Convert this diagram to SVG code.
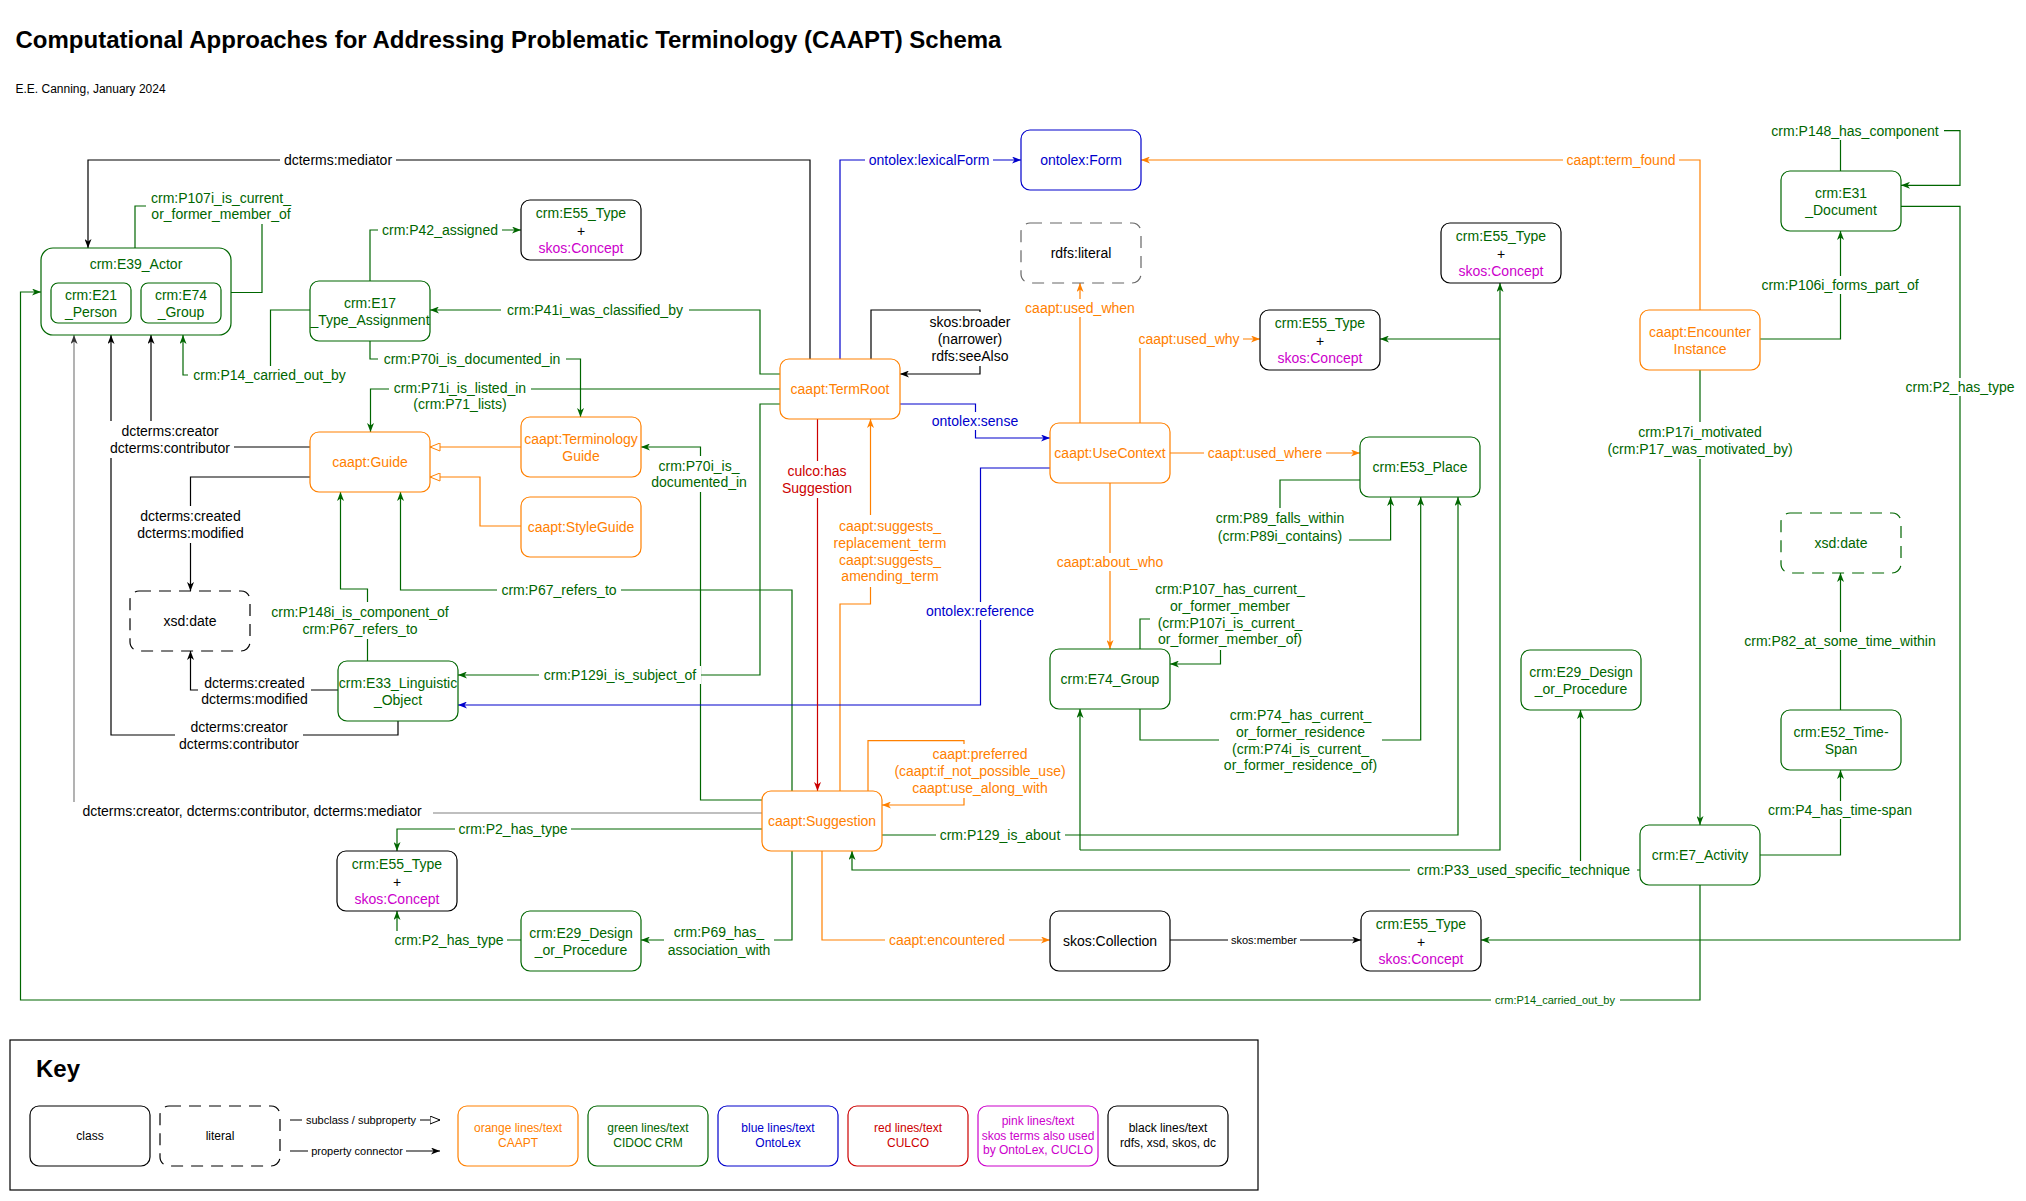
<svg xmlns="http://www.w3.org/2000/svg" xmlns:xlink="http://www.w3.org/1999/xlink" width="2026" height="1201" viewBox="0 0 2026 1201">
<style>
text{font-family:"Liberation Sans",Arial,Helvetica,sans-serif;font-size:14px;text-anchor:middle;dominant-baseline:central}
.title{font-size:24px;font-weight:bold;text-anchor:start;dominant-baseline:auto}
.sub{font-size:12px;text-anchor:start;dominant-baseline:auto}
.bg use{filter:url(#bgo)}
.s11{font-size:11px}
.s12{font-size:12px}
.g{fill:#006600}.o{fill:#FF8000}.b{fill:#0000CC}.r{fill:#CC0000}.p{fill:#CC00CC}.k{fill:#000}
rect.n{fill:#fff;stroke-width:1.2}
.ng{stroke:#006600}.no{stroke:#FF8000}.nb{stroke:#0000CC}.nk{stroke:#000}.nr{stroke:#CC0000}.np{stroke:#CC00CC}.nd{stroke:#666}
.d{stroke-dasharray:12 8}
path.e{fill:none;stroke-width:1.2}
.cg{stroke:#006600}.co{stroke:#FF8000}.cb{stroke:#0000CC}.cr{stroke:#CC0000}.ck{stroke:#000}.cy{stroke:#808080;stroke-width:2.2px}
</style>
<defs>
<filter id="bgo" x="-0.03" y="-0.04" width="1.06" height="1.08"><feFlood flood-color="#fff"/></filter>
<marker id="ag" viewBox="0 0 9 7" refX="9" refY="3.5" markerWidth="9" markerHeight="7" markerUnits="userSpaceOnUse" orient="auto"><path d="M0,0 L9,3.5 L0,7 L2.5,3.5 Z" fill="#006600"/></marker>
<marker id="ao" viewBox="0 0 9 7" refX="9" refY="3.5" markerWidth="9" markerHeight="7" markerUnits="userSpaceOnUse" orient="auto"><path d="M0,0 L9,3.5 L0,7 L2.5,3.5 Z" fill="#FF8000"/></marker>
<marker id="ab" viewBox="0 0 9 7" refX="9" refY="3.5" markerWidth="9" markerHeight="7" markerUnits="userSpaceOnUse" orient="auto"><path d="M0,0 L9,3.5 L0,7 L2.5,3.5 Z" fill="#0000CC"/></marker>
<marker id="ar" viewBox="0 0 9 7" refX="9" refY="3.5" markerWidth="9" markerHeight="7" markerUnits="userSpaceOnUse" orient="auto"><path d="M0,0 L9,3.5 L0,7 L2.5,3.5 Z" fill="#CC0000"/></marker>
<marker id="ak" viewBox="0 0 9 7" refX="9" refY="3.5" markerWidth="9" markerHeight="7" markerUnits="userSpaceOnUse" orient="auto"><path d="M0,0 L9,3.5 L0,7 L2.5,3.5 Z" fill="#000"/></marker>
<marker id="ay" viewBox="0 0 9 7" refX="9" refY="3.5" markerWidth="9" markerHeight="7" markerUnits="userSpaceOnUse" orient="auto"><path d="M0,0 L9,3.5 L0,7 L2.5,3.5 Z" fill="#333"/></marker>
<marker id="ho" viewBox="0 0 11 9" refX="10.5" refY="4.5" markerWidth="11" markerHeight="9" markerUnits="userSpaceOnUse" orient="auto"><path d="M0.5,0.5 L10.5,4.5 L0.5,8.5 Z" fill="#fff" stroke="#FF8000"/></marker>
<marker id="hk" viewBox="0 0 11 9" refX="10.5" refY="4.5" markerWidth="11" markerHeight="9" markerUnits="userSpaceOnUse" orient="auto"><path d="M0.5,0.5 L10.5,4.5 L0.5,8.5 Z" fill="#fff" stroke="#000"/></marker>
</defs>
<rect width="2026" height="1201" fill="#fff"/>
<text class="title" x="15.5" y="48">Computational Approaches for Addressing Problematic Terminology (CAAPT) Schema</text>
<text class="sub" x="15.5" y="93">E.E. Canning, January 2024</text>

<g id="connectors">
<!-- black -->
<path class="e ck" d="M810,359 V160 H88 V248" marker-end="url(#ak)"/>
<path class="e ck" d="M871,359 V310 H980 V374 H900" marker-end="url(#ak)"/>
<path class="e ck" d="M310,447 H151 V335" marker-end="url(#ak)"/>
<path class="e ck" d="M310,477 H190.5 V591" marker-end="url(#ak)"/>
<path class="e ck" d="M338,690 H190.5 V651" marker-end="url(#ak)"/>
<path class="e ck" d="M398,721 V735 H111 V335" marker-end="url(#ak)"/>
<path class="e cy" d="M762,813 H74 V335" marker-end="url(#ay)"/>
<path class="e ck" d="M1170,940 H1361" marker-end="url(#ak)"/>
<!-- green -->
<path class="e cg" d="M135,248 V206 H262 V292.5 H221" marker-end="url(#ag)"/>
<path class="e cg" d="M370,281 V230 H521" marker-end="url(#ag)"/>
<path class="e cg" d="M780,374 H760 V310 H430" marker-end="url(#ag)"/>
<path class="e cg" d="M310,310 H270.5 V375 H183 V335" marker-end="url(#ag)"/>
<path class="e cg" d="M370,341 V359 H580.5 V417" marker-end="url(#ag)"/>
<path class="e cg" d="M780,389 H370.5 V432" marker-end="url(#ag)"/>
<path class="e cg" d="M762,800 H700.5 V447 H641" marker-end="url(#ag)"/>
<path class="e cg" d="M780,404 H760 V675 H458" marker-end="url(#ag)"/>
<path class="e cg" d="M792,791 V590 H400.5 V492" marker-end="url(#ag)"/>
<path class="e cg" d="M367.5,661 V589 H340.5 V492" marker-end="url(#ag)"/>
<path class="e cg" d="M762,829 H397 V851" marker-end="url(#ag)"/>
<path class="e cg" d="M792,851 V940 H641" marker-end="url(#ag)"/>
<path class="e cg" d="M521,940 H397 V911" marker-end="url(#ag)"/>
<path class="e cg" d="M882,835 H1458 V497" marker-end="url(#ag)"/>
<path class="e cg" d="M1080,850 V709" marker-end="url(#ag)"/>
<path class="e cg" d="M1080,850 H1500 V283" marker-end="url(#ag)"/>
<path class="e cg" d="M1500,339 H1380" marker-end="url(#ag)"/>
<path class="e cg" d="M1640,870 H852 V851" marker-end="url(#ag)"/>
<path class="e cg" d="M1580.5,870 V710" marker-end="url(#ag)"/>
<path class="e cg" d="M1700,369 V825" marker-end="url(#ag)"/>
<path class="e cg" d="M1760,339 H1840.5 V231" marker-end="url(#ag)"/>
<path class="e cg" d="M1840.5,171 V130.7 H1960 V185.3 H1901" marker-end="url(#ag)"/>
<path class="e cg" d="M1901,206.3 H1960 V940 H1481" marker-end="url(#ag)"/>
<path class="e cg" d="M1760,855 H1840.5 V770" marker-end="url(#ag)"/>
<path class="e cg" d="M1840.5,710 V573" marker-end="url(#ag)"/>
<path class="e cg" d="M1700,885 V1000 H20.5 V292 H41" marker-end="url(#ag)"/>
<path class="e cg" d="M1360,480 H1280 V540 H1390.6 V497" marker-end="url(#ag)"/>
<path class="e cg" d="M1140,649 V619 H1220.5 V664 H1170" marker-end="url(#ag)"/>
<path class="e cg" d="M1140,709 V740 H1420.7 V497" marker-end="url(#ag)"/>
<!-- orange -->
<path class="e co" d="M1700,310 V160 H1141" marker-end="url(#ao)"/>
<path class="e co" d="M1080,423 V283" marker-end="url(#ao)"/>
<path class="e co" d="M1140,423 V339 H1260" marker-end="url(#ao)"/>
<path class="e co" d="M1170,453 H1360" marker-end="url(#ao)"/>
<path class="e co" d="M1110,483 V649" marker-end="url(#ao)"/>
<path class="e co" d="M840,791 V604 H870.5 V419" marker-end="url(#ao)"/>
<path class="e co" d="M868,791 V740.7 H964 V805 H882" marker-end="url(#ao)"/>
<path class="e co" d="M822,851 V940 H1050" marker-end="url(#ao)"/>
<path class="e co" d="M521,447 H430" marker-end="url(#ho)"/>
<path class="e co" d="M521,526 H480 V477 H430" marker-end="url(#ho)"/>
<!-- blue -->
<path class="e cb" d="M840,359 V160 H1021" marker-end="url(#ab)"/>
<path class="e cb" d="M900,404 H975.5 V438 H1050" marker-end="url(#ab)"/>
<path class="e cb" d="M1050,468 H980.5 V705 H458" marker-end="url(#ab)"/>
<!-- red -->
<path class="e cr" d="M817.5,419 V791" marker-end="url(#ar)"/>

<g class="bg">
<use href="#t1"/><use href="#t2"/><use href="#t3"/><use href="#t4"/><use href="#t5"/><use href="#t6"/><use href="#t7"/><use href="#t8"/><use href="#t9"/><use href="#t10"/>
<use href="#t11"/><use href="#t12"/><use href="#t13"/><use href="#t14"/><use href="#t15"/><use href="#t16"/><use href="#t17"/><use href="#t18"/><use href="#t19"/><use href="#t20"/>
<use href="#t21"/><use href="#t22"/><use href="#t23"/><use href="#t24"/><use href="#t25"/><use href="#t26"/><use href="#t27"/><use href="#t28"/><use href="#t29"/><use href="#t30"/>
<use href="#t31"/><use href="#t32"/><use href="#t33"/><use href="#t34"/><use href="#t35"/><use href="#t36"/><use href="#t37"/><use href="#t38"/><use href="#t39"/><use href="#t40"/>
<use href="#t41"/><use href="#t42"/><use href="#t43"/><use href="#t44"/><use href="#t45"/>
</g>
<g id="edge-labels">
<text id="t1" class="k" x="338" y="160">dcterms:mediator</text>
<text id="t2" class="k"><tspan x="970" y="322">skos:broader</tspan><tspan x="970" y="339">(narrower)</tspan><tspan x="970" y="356">rdfs:seeAlso</tspan></text>
<text id="t3" class="k"><tspan x="170" y="431">dcterms:creator</tspan><tspan x="170" y="448">dcterms:contributor</tspan></text>
<text id="t4" class="k"><tspan x="190.5" y="516">dcterms:created</tspan><tspan x="190.5" y="533">dcterms:modified</tspan></text>
<text id="t5" class="k"><tspan x="254.5" y="683">dcterms:created</tspan><tspan x="254.5" y="699">dcterms:modified</tspan></text>
<text id="t6" class="k"><tspan x="239" y="727">dcterms:creator</tspan><tspan x="239" y="744">dcterms:contributor</tspan></text>
<text id="t7" class="k" x="252" y="811">dcterms:creator, dcterms:contributor, dcterms:mediator</text>
<text id="t8" class="k s11" x="1264" y="940">skos:member</text>

<text id="t9" class="g"><tspan x="221" y="198">crm:P107i_is_current_</tspan><tspan x="221" y="214">or_former_member_of</tspan></text>
<text id="t10" class="g" x="440" y="230">crm:P42_assigned</text>
<text id="t11" class="g" x="595" y="310">crm:P41i_was_classified_by</text>
<text id="t12" class="g" x="269.5" y="375">crm:P14_carried_out_by</text>
<text id="t13" class="g" x="472" y="359">crm:P70i_is_documented_in</text>
<text id="t14" class="g"><tspan x="460" y="388">crm:P71i_is_listed_in</tspan><tspan x="460" y="404">(crm:P71_lists)</tspan></text>
<text id="t15" class="g"><tspan x="699" y="466">crm:P70i_is_</tspan><tspan x="699" y="482">documented_in</tspan></text>
<text id="t16" class="g" x="620" y="675">crm:P129i_is_subject_of</text>
<text id="t17" class="g" x="559" y="590">crm:P67_refers_to</text>
<text id="t18" class="g"><tspan x="360" y="612">crm:P148i_is_component_of</tspan><tspan x="360" y="629">crm:P67_refers_to</tspan></text>
<text id="t19" class="g" x="513" y="829">crm:P2_has_type</text>
<text id="t20" class="g"><tspan x="719" y="932">crm:P69_has_</tspan><tspan x="719" y="950">association_with</tspan></text>
<text id="t21" class="g" x="449" y="940">crm:P2_has_type</text>
<text id="t22" class="g" x="1000" y="835">crm:P129_is_about</text>
<text id="t23" class="g" x="1523.5" y="870">crm:P33_used_specific_technique</text>
<text id="t24" class="g"><tspan x="1700" y="432">crm:P17i_motivated</tspan><tspan x="1700" y="449">(crm:P17_was_motivated_by)</tspan></text>
<text id="t25" class="g" x="1840" y="285">crm:P106i_forms_part_of</text>
<text id="t26" class="g" x="1855" y="131">crm:P148_has_component</text>
<text id="t27" class="g" x="1960" y="387">crm:P2_has_type</text>
<text id="t28" class="g" x="1840" y="810">crm:P4_has_time-span</text>
<text id="t29" class="g" x="1840" y="641">crm:P82_at_some_time_within</text>
<text id="t30" class="g s11" x="1555" y="1000">crm:P14_carried_out_by</text>
<text id="t31" class="g"><tspan x="1280" y="518">crm:P89_falls_within</tspan><tspan x="1280" y="536">(crm:P89i_contains)</tspan></text>
<text id="t32" class="g"><tspan x="1230" y="589">crm:P107_has_current_</tspan><tspan x="1230" y="606">or_former_member</tspan><tspan x="1230" y="623">(crm:P107i_is_current_</tspan><tspan x="1230" y="639">or_former_member_of)</tspan></text>
<text id="t33" class="g"><tspan x="1300.5" y="715">crm:P74_has_current_</tspan><tspan x="1300.5" y="732">or_former_residence</tspan><tspan x="1300.5" y="749">(crm:P74i_is_current_</tspan><tspan x="1300.5" y="765">or_former_residence_of)</tspan></text>

<text id="t34" class="o" x="1621" y="160">caapt:term_found</text>
<text id="t35" class="o" x="1080" y="308">caapt:used_when</text>
<text id="t36" class="o" x="1189" y="339">caapt:used_why</text>
<text id="t37" class="o" x="1265" y="453">caapt:used_where</text>
<text id="t38" class="o" x="1110" y="562">caapt:about_who</text>
<text id="t39" class="o"><tspan x="890" y="526">caapt:suggests_</tspan><tspan x="890" y="543">replacement_term</tspan><tspan x="890" y="560">caapt:suggests_</tspan><tspan x="890" y="576">amending_term</tspan></text>
<text id="t40" class="o"><tspan x="980" y="754">caapt:preferred</tspan><tspan x="980" y="771">(caapt:if_not_possible_use)</tspan><tspan x="980" y="788">caapt:use_along_with</tspan></text>
<text id="t41" class="o" x="947" y="940">caapt:encountered</text>

<text id="t42" class="b" x="929" y="160">ontolex:lexicalForm</text>
<text id="t43" class="b" x="975" y="421">ontolex:sense</text>
<text id="t44" class="b" x="980" y="611">ontolex:reference</text>

<text id="t45" class="r"><tspan x="817" y="471">culco:has</tspan><tspan x="817" y="488">Suggestion</tspan></text>
</g>
</g>

<g id="n-e39-actor">
<rect class="n ng" x="41" y="248" width="190" height="87" rx="12"/>
<text class="g" x="136" y="264">crm:E39_Actor</text>
</g>
<g id="n-e21-person">
<rect class="n ng" x="51" y="283" width="80" height="40" rx="7"/>
<text class="g"><tspan x="91" y="295">crm:E21</tspan><tspan x="91" y="312">_Person</tspan></text>
</g>
<g id="n-e74-group-inner">
<rect class="n ng" x="141" y="283" width="80" height="40" rx="7"/>
<text class="g"><tspan x="181" y="295">crm:E74</tspan><tspan x="181" y="312">_Group</tspan></text>
</g>
<g id="n-e17">
<rect class="n ng" x="310" y="281" width="120" height="60" rx="9"/>
<text class="g"><tspan x="370" y="302.5">crm:E17</tspan><tspan x="370" y="319.5">_Type_Assignment</tspan></text>
</g>
<g id="n-e55-a">
<rect class="n nk" x="521" y="200" width="120" height="60" rx="9"/>
<text class="g" x="581" y="213">crm:E55_Type</text><text class="k" x="581" y="230.5">+</text><text class="p" x="581" y="248">skos:Concept</text>
</g>
<g id="n-termroot">
<rect class="n no" x="780" y="359" width="120" height="60" rx="9"/>
<text class="o" x="840" y="389">caapt:TermRoot</text>
</g>
<g id="n-form">
<rect class="n nb" x="1021" y="130" width="120" height="60" rx="9"/>
<text class="b" x="1081" y="160">ontolex:Form</text>
</g>
<g id="n-literal">
<rect class="n nd d" x="1021" y="223" width="120" height="60" rx="9"/>
<text class="k" x="1081" y="253">rdfs:literal</text>
</g>
<g id="n-e55-b">
<rect class="n nk" x="1260" y="310" width="120" height="60" rx="9"/>
<text class="g" x="1320" y="323">crm:E55_Type</text><text class="k" x="1320" y="340.5">+</text><text class="p" x="1320" y="358">skos:Concept</text>
</g>
<g id="n-e55-c">
<rect class="n nk" x="1441" y="223" width="120" height="60" rx="9"/>
<text class="g" x="1501" y="236">crm:E55_Type</text><text class="k" x="1501" y="253.5">+</text><text class="p" x="1501" y="271">skos:Concept</text>
</g>
<g id="n-e31">
<rect class="n ng" x="1781" y="171" width="120" height="60" rx="9"/>
<text class="g"><tspan x="1841" y="192.5">crm:E31</tspan><tspan x="1841" y="209.5">_Document</tspan></text>
</g>
<g id="n-encounter">
<rect class="n no" x="1640" y="310" width="120" height="60" rx="9"/>
<text class="o"><tspan x="1700" y="331.5">caapt:Encounter</tspan><tspan x="1700" y="348.5">Instance</tspan></text>
</g>
<g id="n-guide">
<rect class="n no" x="310" y="432" width="120" height="60" rx="9"/>
<text class="o" x="370" y="462">caapt:Guide</text>
</g>
<g id="n-termguide">
<rect class="n no" x="521" y="417" width="120" height="60" rx="9"/>
<text class="o"><tspan x="581" y="438.5">caapt:Terminology</tspan><tspan x="581" y="455.5">Guide</tspan></text>
</g>
<g id="n-styleguide">
<rect class="n no" x="521" y="497" width="120" height="60" rx="9"/>
<text class="o" x="581" y="527">caapt:StyleGuide</text>
</g>
<g id="n-usecontext">
<rect class="n no" x="1050" y="423" width="120" height="60" rx="9"/>
<text class="o" x="1110" y="453">caapt:UseContext</text>
</g>
<g id="n-e53">
<rect class="n ng" x="1360" y="437" width="120" height="60" rx="9"/>
<text class="g" x="1420" y="467">crm:E53_Place</text>
</g>
<g id="n-xsd-a">
<rect class="n nk d" x="130" y="591" width="120" height="60" rx="9"/>
<text class="k" x="190" y="621">xsd:date</text>
</g>
<g id="n-e33">
<rect class="n ng" x="338" y="661" width="120" height="60" rx="9"/>
<text class="g"><tspan x="398" y="682.5">crm:E33_Linguistic</tspan><tspan x="398" y="699.5">_Object</tspan></text>
</g>
<g id="n-e74-group">
<rect class="n ng" x="1050" y="649" width="120" height="60" rx="9"/>
<text class="g" x="1110" y="679">crm:E74_Group</text>
</g>
<g id="n-xsd-b">
<rect class="n ng d" x="1781" y="513" width="120" height="60" rx="9"/>
<text class="g" x="1841" y="543">xsd:date</text>
</g>
<g id="n-e29-b">
<rect class="n ng" x="1521" y="650" width="120" height="60" rx="9"/>
<text class="g"><tspan x="1581" y="671.5">crm:E29_Design</tspan><tspan x="1581" y="688.5">_or_Procedure</tspan></text>
</g>
<g id="n-e52">
<rect class="n ng" x="1781" y="710" width="120" height="60" rx="9"/>
<text class="g"><tspan x="1841" y="731.5">crm:E52_Time-</tspan><tspan x="1841" y="748.5">Span</tspan></text>
</g>
<g id="n-suggestion">
<rect class="n no" x="762" y="791" width="120" height="60" rx="9"/>
<text class="o" x="822" y="821">caapt:Suggestion</text>
</g>
<g id="n-e7">
<rect class="n ng" x="1640" y="825" width="120" height="60" rx="9"/>
<text class="g" x="1700" y="855">crm:E7_Activity</text>
</g>
<g id="n-e55-d">
<rect class="n nk" x="337" y="851" width="120" height="60" rx="9"/>
<text class="g" x="397" y="864">crm:E55_Type</text><text class="k" x="397" y="881.5">+</text><text class="p" x="397" y="899">skos:Concept</text>
</g>
<g id="n-e29-a">
<rect class="n ng" x="521" y="911" width="120" height="60" rx="9"/>
<text class="g"><tspan x="581" y="932.5">crm:E29_Design</tspan><tspan x="581" y="949.5">_or_Procedure</tspan></text>
</g>
<g id="n-collection">
<rect class="n nk" x="1050" y="911" width="120" height="60" rx="9"/>
<text class="k" x="1110" y="941">skos:Collection</text>
</g>
<g id="n-e55-e">
<rect class="n nk" x="1361" y="911" width="120" height="60" rx="9"/>
<text class="g" x="1421" y="924">crm:E55_Type</text><text class="k" x="1421" y="941.5">+</text><text class="p" x="1421" y="959">skos:Concept</text>
</g>

<g id="key">
<rect x="10" y="1040" width="1248" height="150" fill="none" stroke="#000" stroke-width="1.2"/>
<text class="title" x="36" y="1077">Key</text>
<rect class="n nk" x="30" y="1106" width="120" height="60" rx="9"/>
<text class="k s12" x="90" y="1136">class</text>
<rect class="n nk d" x="160" y="1106" width="120" height="60" rx="9"/>
<text class="k s12" x="220" y="1136">literal</text>
<path class="e ck" d="M290,1120 H440" marker-end="url(#hk)"/>
<path class="e ck" d="M290,1151 H440" marker-end="url(#ak)"/>
<g class="bg"><use href="#k1"/><use href="#k2"/></g>
<text id="k1" class="k s11" x="361" y="1120">subclass / subproperty</text>
<text id="k2" class="k s11" x="357" y="1151">property connector</text>
<rect class="n no" x="458" y="1106" width="120" height="60" rx="9"/>
<text class="o s12"><tspan x="518" y="1128">orange lines/text</tspan><tspan x="518" y="1143">CAAPT</tspan></text>
<rect class="n ng" x="588" y="1106" width="120" height="60" rx="9"/>
<text class="g s12"><tspan x="648" y="1128">green lines/text</tspan><tspan x="648" y="1143">CIDOC CRM</tspan></text>
<rect class="n nb" x="718" y="1106" width="120" height="60" rx="9"/>
<text class="b s12"><tspan x="778" y="1128">blue lines/text</tspan><tspan x="778" y="1143">OntoLex</tspan></text>
<rect class="n nr" x="848" y="1106" width="120" height="60" rx="9"/>
<text class="r s12"><tspan x="908" y="1128">red lines/text</tspan><tspan x="908" y="1143">CULCO</tspan></text>
<rect class="n np" x="978" y="1106" width="120" height="60" rx="9"/>
<text class="p s12"><tspan x="1038" y="1121">pink lines/text</tspan><tspan x="1038" y="1135.5">skos terms also used</tspan><tspan x="1038" y="1150">by OntoLex, CUCLO</tspan></text>
<rect class="n nk" x="1108" y="1106" width="120" height="60" rx="9"/>
<text class="k s12"><tspan x="1168" y="1128">black lines/text</tspan><tspan x="1168" y="1143">rdfs, xsd, skos, dc</tspan></text>
</g>
</svg>
